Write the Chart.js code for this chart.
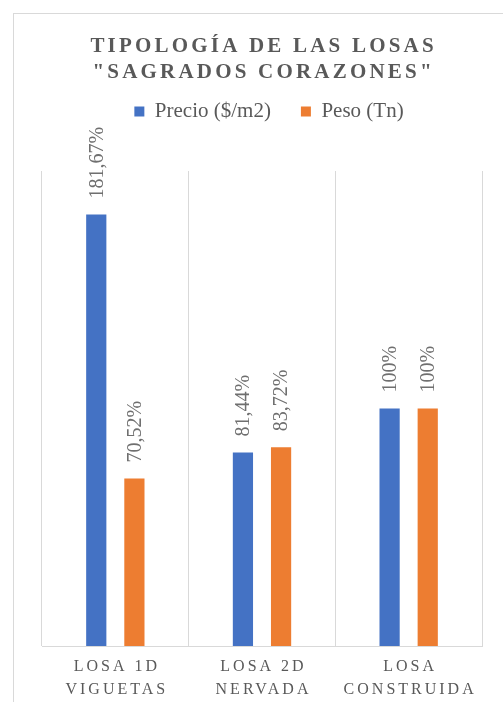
<!DOCTYPE html>
<html>
<head>
<meta charset="utf-8">
<script src="https://cdn.jsdelivr.net/npm/chart.js@4"></script>
<style>
  html, body { margin: 0; padding: 0; background: #fff; overflow: hidden; }
  #frame { position: absolute; left: 13px; top: 13px; width: 520px; height: 720px; border: 1px solid #d9d9d9; }
  #wrap { position: absolute; left: 0; top: 0; width: 503px; height: 702px; }
</style>
</head>
<body>
<div id="frame"></div>
<div id="wrap"><canvas id="losas"></canvas></div>
<script>
// data
var categories = [['LOSA 1D', 'VIGUETAS'], ['LOSA 2D', 'NERVADA'], ['LOSA', 'CONSTRUIDA']];
var precio = [181.67, 81.44, 100];
var peso = [70.52, 83.72, 100];
var titleLines = ['TIPOLOGÍA DE LAS LOSAS', '"SAGRADOS CORAZONES"'];

var serif = "'Liberation Serif', 'DejaVu Serif', serif";

function pct(v) {
  return (Number.isInteger(v) ? String(v) : v.toFixed(2).replace('.', ',')) + '%';
}

// title, category labels and value labels (letter spaced / rotated like the excel chart)
var textPlugin = {
  id: 'textPlugin',
  afterInit: function(chart) {
    var lg = chart.legend;
    var fit = lg.fit;
    var draw = lg.draw;
    lg.fit = function() {
      fit.call(lg);
      this.height += 39;
    };
    // excel puts the legend a bit right of centre
    lg.draw = function() {
      var c = chart.ctx;
      c.save();
      c.translate(7, 0);
      draw.apply(lg, arguments);
      c.restore();
    };
  },
  afterDatasetsDraw: function(chart) {
    var ctx = chart.ctx;
    ctx.save();
    ctx.font = '20px ' + serif;
    ctx.fillStyle = '#6f6f6f';
    ctx.textAlign = 'left';
    ctx.textBaseline = 'middle';
    chart.data.datasets.forEach(function(ds, di) {
      chart.getDatasetMeta(di).data.forEach(function(bar, i) {
        ctx.save();
        ctx.translate(bar.x + 1, bar.y - 16);
        ctx.rotate(-Math.PI / 2);
        ctx.fillText(pct(ds.data[i]), 0, 0);
        ctx.restore();
      });
    });
    ctx.restore();
  },
  afterDraw: function(chart) {
    var ctx = chart.ctx;
    var area = chart.chartArea;
    var cx = (area.left + area.right) / 2;
    ctx.save();
    ctx.textAlign = 'center';
    ctx.textBaseline = 'alphabetic';
    ctx.fillStyle = '#595959';
    ctx.font = 'bold 21px ' + serif;
    ctx.letterSpacing = '3.2px';
    ctx.fillText(titleLines[0], cx + 1.6, 52);
    ctx.fillText(titleLines[1], cx + 1.6, 78);

    var xs = chart.scales.x;
    ctx.font = '16px ' + serif;
    ctx.letterSpacing = '3px';
    categories.forEach(function(lines, i) {
      var x = xs.getPixelForValue(i) + 1.5;
      lines.forEach(function(t, j) {
        ctx.fillText(t, x, area.bottom + 25 + j * 23);
      });
    });
    ctx.restore();
  }
};

function build() {
  var ctx = document.getElementById('losas').getContext('2d');
  return new Chart(ctx, {
    type: 'bar',
    data: {
      labels: categories.map(function(c) { return c.join(' '); }),
      datasets: [{
        label: 'Precio ($/m2)',
        data: precio,
        backgroundColor: '#4472c4',
        barPercentage: 0.53,
        categoryPercentage: 0.52
      }, {
        label: 'Peso (Tn)',
        data: peso,
        backgroundColor: '#ed7d31',
        barPercentage: 0.53,
        categoryPercentage: 0.52
      }]
    },
    options: {
      responsive: true,
      maintainAspectRatio: false,
      animation: false,
      layout: {
        padding: { top: 71, left: 42, right: 21, bottom: 56 }
      },
      plugins: {
        title: { display: false },
        tooltip: { enabled: false },
        legend: {
          position: 'top',
          labels: {
            boxWidth: 10,
            boxHeight: 10,
            padding: 30,
            color: '#595959',
            font: { family: serif, size: 21 }
          }
        }
      },
      scales: {
        x: {
          grid: { offset: true, color: '#d9d9d9', lineWidth: 1, drawTicks: false },
          border: { display: true, color: '#d9d9d9', width: 1 },
          ticks: { display: false }
        },
        y: {
          display: false,
          min: 0,
          max: 200
        }
      }
    },
    plugins: [textPlugin]
  });
}

Promise.all([
  document.fonts.load("20px 'Liberation Serif'"),
  document.fonts.load("bold 21px 'Liberation Serif'")
]).then(build, build);
</script>
</body>
</html>
